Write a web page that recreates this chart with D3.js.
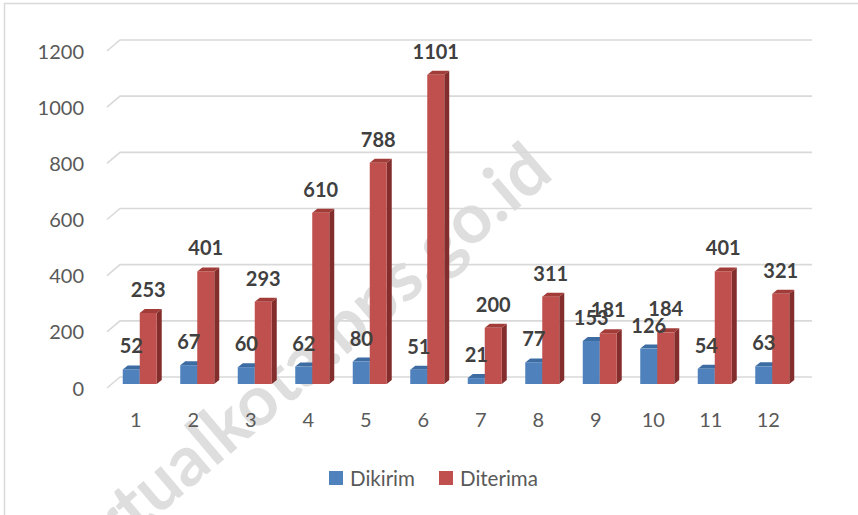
<!DOCTYPE html>
<html><head><meta charset="utf-8">
<script src="https://cdn.jsdelivr.net/npm/d3@7"></script>
<style>body{margin:0;background:#fff;} svg{display:block;}</style>
</head><body>
<svg id="c" width="858" height="515"></svg>
<script>
const categories = ["1","2","3","4","5","6","7","8","9","10","11","12"];
const dikirim = [52,67,60,62,80,51,21,77,153,126,54,63];
const diterima = [253,401,293,610,788,1101,200,311,181,184,401,321];
const yTicks = [0,200,400,600,800,1000,1200];
const seriesNames = ["Dikirim","Diterima"];

const svg = d3.select("#c");
const font = "Lato, 'Open Sans', sans-serif";
const W = 858, H = 515;
// frame
svg.append("rect").attr("x",4.5).attr("y",3.5).attr("width",W+20).attr("height",H+20)
  .attr("fill","#fff").attr("stroke","#d9d9d9").attr("stroke-width",1.5);

// watermark (behind the chart marks)
svg.append("text").attr("transform","translate(76,586) rotate(-40.5)")
  .attr("font-family","Lato, sans-serif").attr("font-weight","bold").attr("font-size",70)
  .attr("fill","#dedede").text("virtualkota.bps.go.id");

const dx = 13, dy = 11; // depth offset of back wall
const x = d3.scaleBand().domain(categories).range([107, 797]).paddingInner(0).paddingOuter(0);
const yBack = d3.scaleLinear().domain([0,1200]).range([377, 40]);
const yFront = d3.scaleLinear().domain([0,1200]).range([377+dy, 40+dy]);
const yBar = d3.scaleLinear().domain([0,1200]).range([384, 47]);

// gridlines
const g = svg.append("g");
yTicks.forEach(t => {
  g.append("path")
    .attr("d", `M${x.range()[0]},${yFront(t)} L${x.range()[0]+dx},${yBack(t)} L${x.range()[1]+dx+2},${yBack(t)}`)
    .attr("fill","none").attr("stroke","#d9d9d9").attr("stroke-width",1.6);
  g.append("text").attr("x",84).attr("y",yFront(t)+7.5)
    .attr("text-anchor","end").attr("font-family",font).attr("font-size",20)
    .attr("fill","#595959").text(t);
});

// category labels
categories.forEach(c => {
  svg.append("text").attr("x", x(c)+x.bandwidth()/2).attr("y", 427)
    .attr("text-anchor","middle").attr("font-family",font).attr("font-size",20)
    .attr("fill","#595959").text(c);
});

const bw = 17, sdx = 5, sdy = 4;
const styles = [
  {front:"#4f81bd", top:"#3d6ca3", side:"#375f8f"},
  {front:"#c0504d", top:"#a13c39", side:"#832e2c"}
];
function bar(x0, v, st) {
  const yt = yBar(v), yb = yBar(0);
  const bg = svg.append("g");
  bg.append("path").attr("d",`M${x0+bw},${yt} L${x0+bw+sdx},${yt-sdy} L${x0+bw+sdx},${yb-sdy} L${x0+bw},${yb} Z`).attr("fill",st.side);
  bg.append("path").attr("d",`M${x0},${yt} L${x0+sdx},${yt-sdy} L${x0+bw+sdx},${yt-sdy} L${x0+bw},${yt} Z`).attr("fill",st.top);
  bg.append("rect").attr("x",x0).attr("y",yt).attr("width",bw).attr("height",yb-yt).attr("fill",st.front);
}
categories.forEach((c,i) => {
  const cx = x(c)+x.bandwidth()/2 + 4;
  bar(cx - bw, dikirim[i], styles[0]);
  bar(cx, diterima[i], styles[1]);
});
// data labels
categories.forEach((c,i) => {
  const cx = x(c)+x.bandwidth()/2 + 4;
  [[dikirim[i], cx - bw/2],[diterima[i], cx + bw/2]].forEach(([v,px]) => {
    svg.append("text").attr("x",px).attr("y",yBar(v)-16)
      .attr("text-anchor","middle").attr("font-family",font).attr("font-size",20)
      .attr("font-weight","bold").attr("fill","#404040").text(v);
  });
});

// legend
const leg = [{name:seriesNames[0], color:styles[0].front, x:329},{name:seriesNames[1], color:styles[1].front, x:439}];
leg.forEach(l => {
  svg.append("rect").attr("x",l.x).attr("y",471).attr("width",14).attr("height",14).attr("fill",l.color);
  svg.append("text").attr("x",l.x+21).attr("y",485.5).attr("font-family",font).attr("font-size",20.5)
    .attr("fill","#595959").text(l.name);
});
</script>
</body></html>
